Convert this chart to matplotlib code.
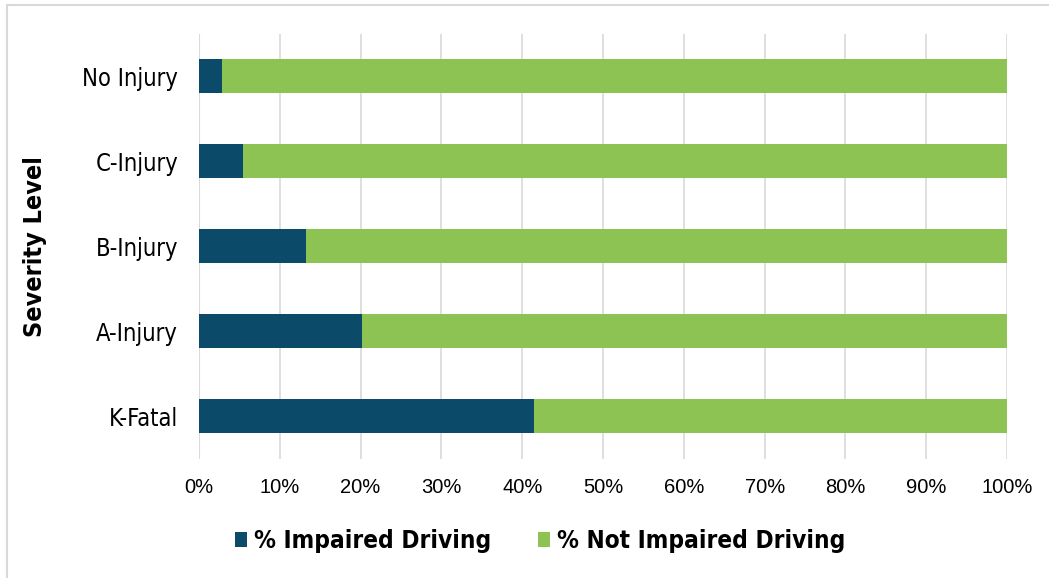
import matplotlib
matplotlib.use("Agg")
import matplotlib.pyplot as plt
from matplotlib.patches import Rectangle
from matplotlib.ticker import FuncFormatter

# Share of crashes involving impaired driving, by injury severity (percent)
severity = ["K-Fatal", "A-Injury", "B-Injury", "C-Injury", "No Injury"]
impaired = [41.4, 20.2, 13.2, 5.5, 2.8]
not_impaired = [100 - v for v in impaired]
x_ticks = list(range(0, 101, 10))

dark_blue = "#0C4A6A"
green = "#8DC353"
grid_gray = "#D9D9D9"

fig = plt.figure(figsize=(10.49, 5.78), dpi=100)
ax = fig.add_axes([0.1897, 0.2059, 0.7703, 0.7353])

y = range(len(severity))
ax.barh(y, impaired, height=0.4, color=dark_blue, label="% Impaired Driving", zorder=3)
ax.barh(y, not_impaired, left=impaired, height=0.4, color=green,
        label="% Not Impaired Driving", zorder=3)

ax.set_xlim(0, 100)
ax.set_ylim(-0.5, len(severity) - 0.5)
ax.set_xticks(x_ticks)
ax.xaxis.set_major_formatter(FuncFormatter(lambda v, p: f"{v:.0f}%"))
ax.set_yticks(list(y))
ax.set_yticklabels(severity, fontsize=17, family="DejaVu Sans", fontstretch="condensed")
for lbl in ax.get_xticklabels():
    lbl.set_family("Liberation Sans")
    lbl.set_fontsize(14.5)

ax.grid(axis="x", color=grid_gray, linewidth=1.2, zorder=0)
ax.tick_params(axis="both", length=0, colors="black")
ax.tick_params(axis="x", pad=14)
ax.tick_params(axis="y", pad=15)
for side in ["top", "right", "bottom", "left"]:
    ax.spines[side].set_visible(False)
ax.axvline(0, color=grid_gray, linewidth=1.5, zorder=2)

ax.set_ylabel("Severity Level", fontsize=18, fontweight="bold",
              family="DejaVu Sans", fontstretch="condensed", labelpad=25)

leg = fig.legend(loc="center", bbox_to_anchor=(0.515, 0.064), ncol=2, frameon=False,
                 handlelength=0.5, handleheight=0.6, handletextpad=0.3, columnspacing=1.9,
                 prop={"family": "DejaVu Sans", "weight": "bold", "size": 17.5,
                       "stretch": "condensed"})

# Light outer frame around the chart area
fig.patches.append(Rectangle((7 / 1049, -0.05), 1.1, 1 - 5 / 578 + 0.05,
                             transform=fig.transFigure, fill=False,
                             edgecolor="#D9D9D9", linewidth=1.5))

fig.savefig("out.png", dpi=100)
